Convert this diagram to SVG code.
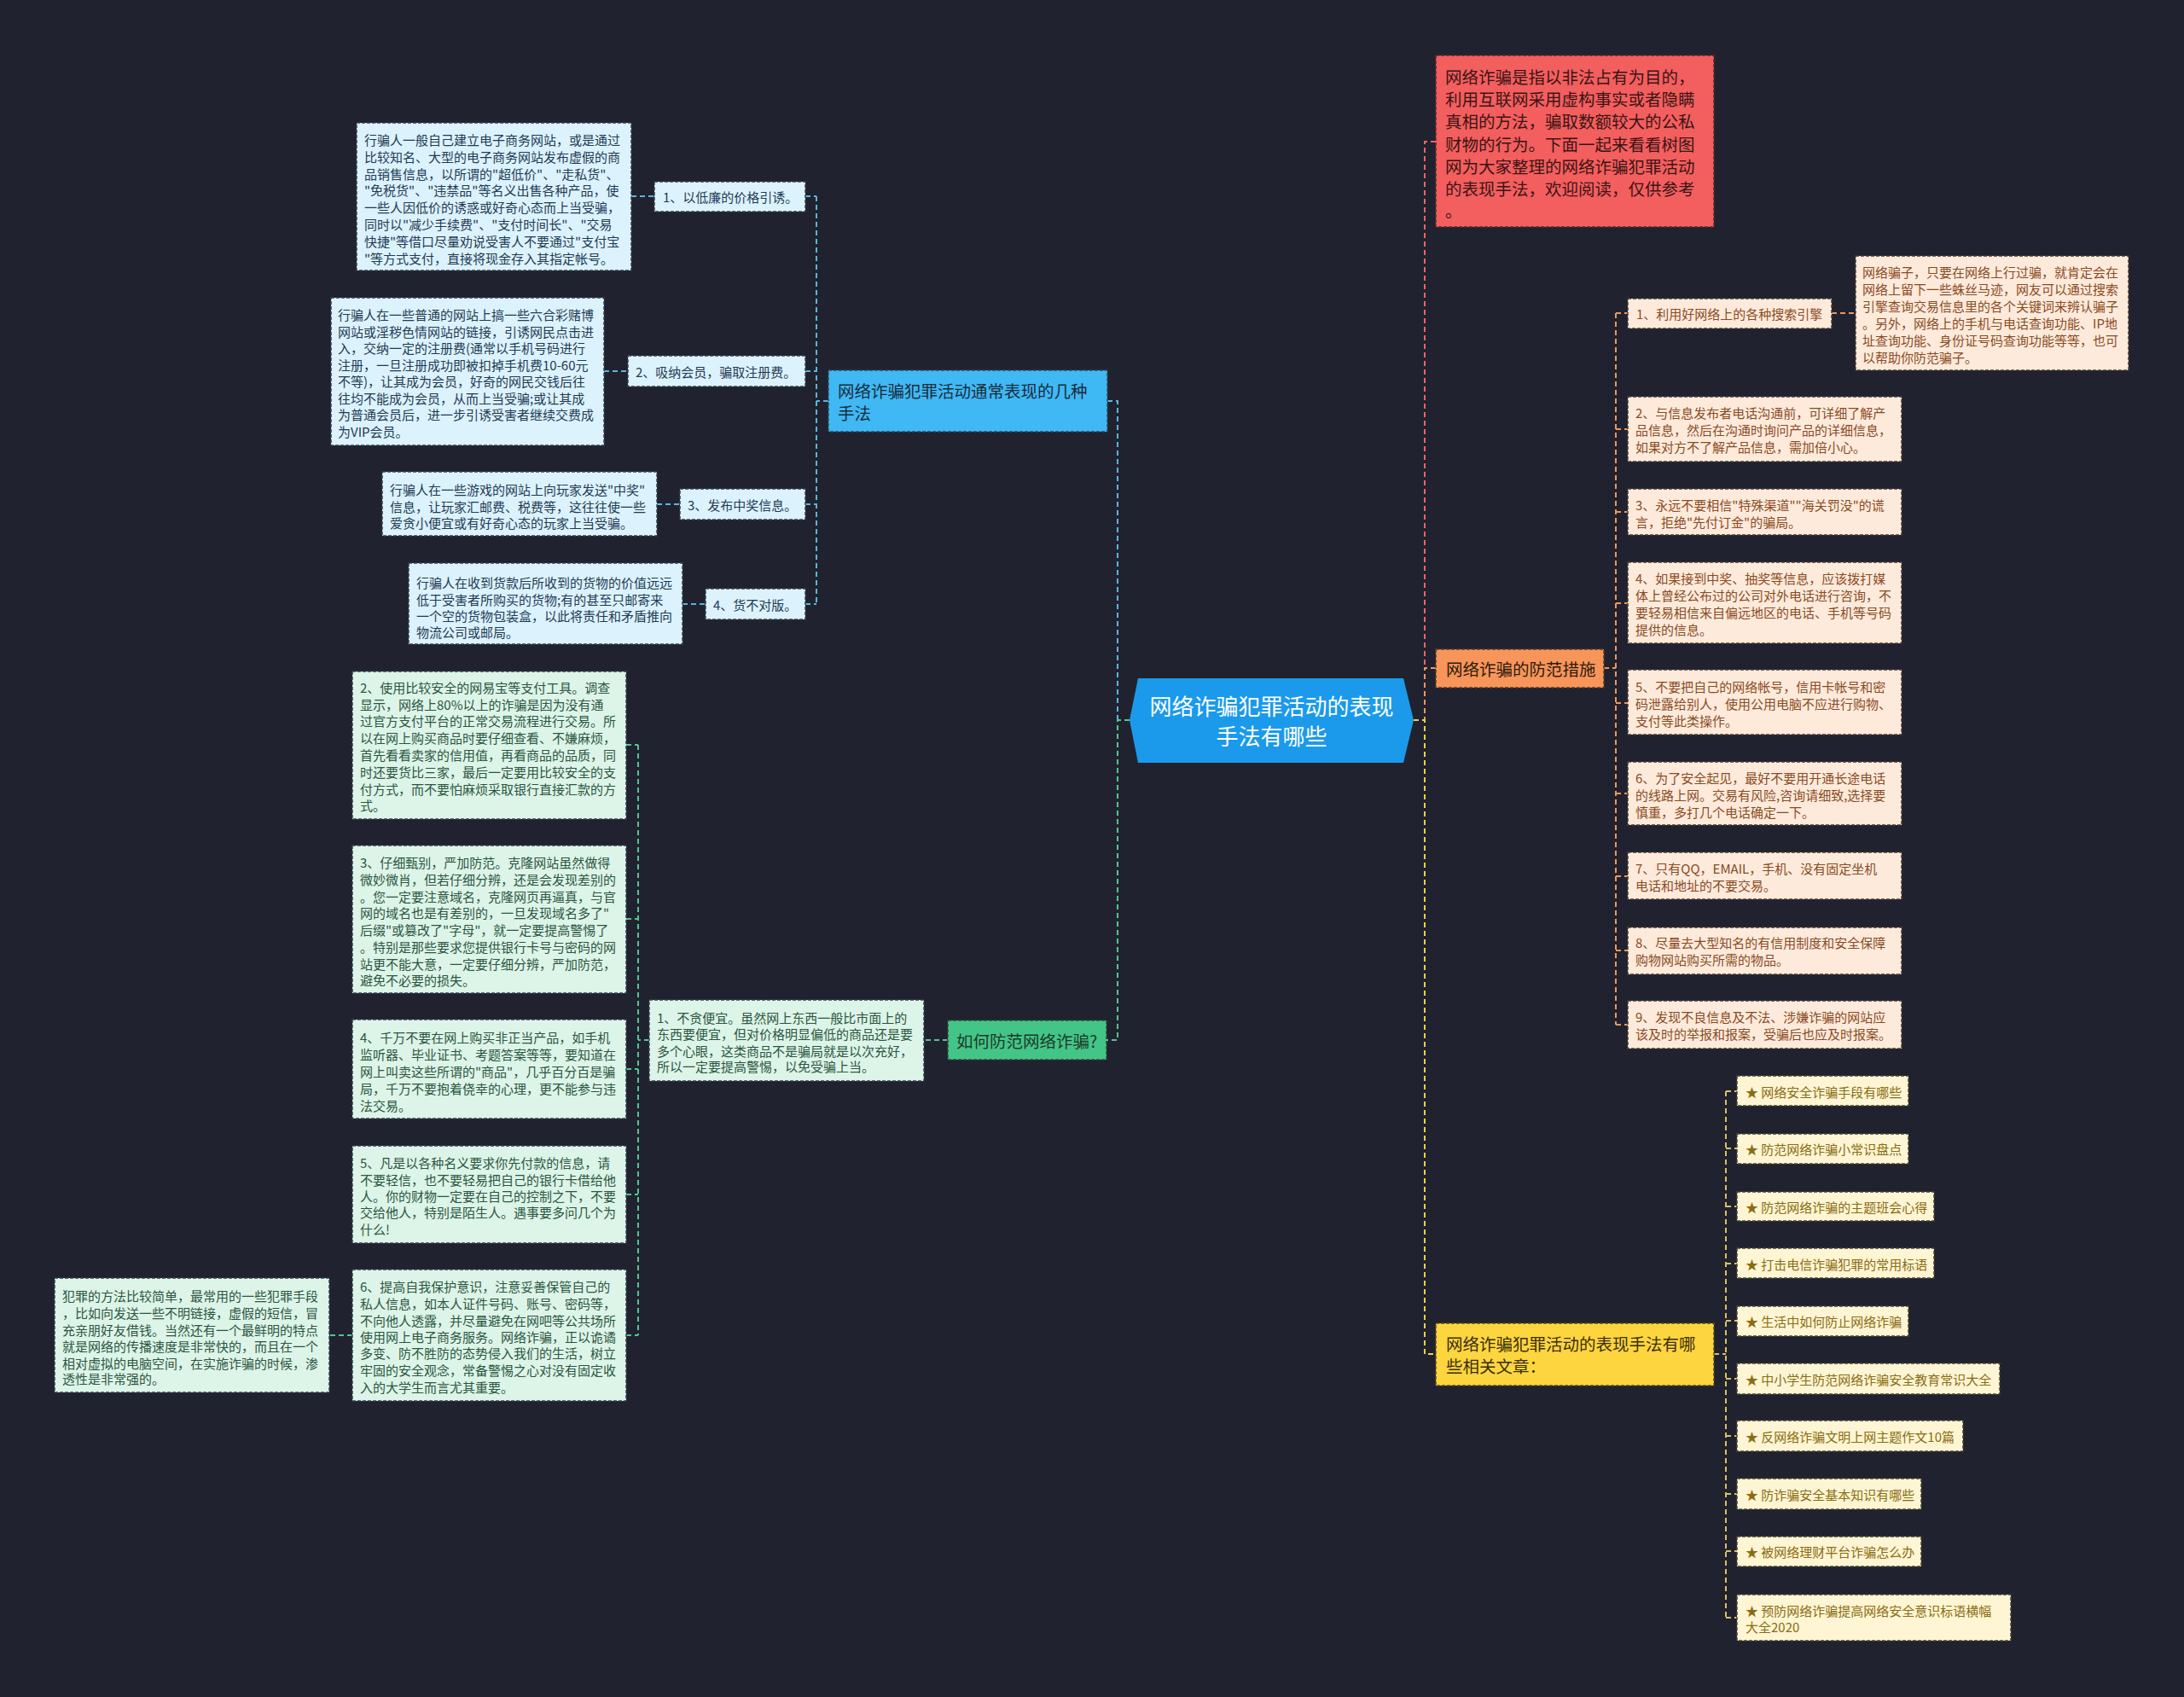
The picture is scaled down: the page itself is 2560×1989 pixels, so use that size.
<svg xmlns="http://www.w3.org/2000/svg" width="2560" height="1989" viewBox="0 0 2560 1989">
<style>
text{font-family:"Noto Sans CJK SC","Noto Sans",sans-serif;dominant-baseline:central}
.t15{font-size:15px}
.t19{font-size:19.5px}
.bl{fill:#dcf2fc;stroke:#33414f;stroke-width:1.5;stroke-dasharray:4 2}
.blt{fill:#1d3b55}
.gr{fill:#ddf4e8;stroke:#33414f;stroke-width:1.5;stroke-dasharray:4 2}
.grt{fill:#2a5640}
.or{fill:#fdeadb;stroke:#4a3a30;stroke-width:1.5;stroke-dasharray:4 2}
.ort{fill:#8a4a1f}
.ye{fill:#fdf5d3;stroke:#4a4430;stroke-width:1.5;stroke-dasharray:4 2}
.yet{fill:#8a6c12}
.c{fill:none;stroke-width:2;stroke-dasharray:6 4}
.cb{stroke:#5ab4e2}
.cg{stroke:#55c48e}
.cr{stroke:#f06464}
.co{stroke:#f0965a}
.cy{stroke:#f3cf45}
.cyy{stroke:#d9c062}
</style>
<rect x="0" y="0" width="2560" height="1989" fill="#20232f"/>

<g id="connectors">
  <!-- left trunk -->
  <path class="c cb" d="M1298 470 H1310 V844"/>
  <path class="c cg" d="M1324 844 H1310 V1219 H1297"/>
  <!-- blue branch -->
  <path class="c cb" d="M971 470 H957"/>
  <path class="c cb" d="M957 230 V708"/>
  <path class="c cb" d="M944 230 H957 M944 435 H957 M944 591 H957 M944 708 H957"/>
  <path class="c cb" d="M740 230 H767 M708 435 H736 M770 591 H797 M800 708 H827"/>
  <!-- green branch -->
  <path class="c cg" d="M1111 1219 H1083"/>
  <path class="c cg" d="M761 1219 H748"/>
  <path class="c cg" d="M748 873 V1565"/>
  <path class="c cg" d="M734 873 H748 M734 1077 H748 M734 1253 H748 M734 1400 H748 M734 1565 H748"/>
  <path class="c cg" d="M413 1565 H386"/>
  <!-- right trunk -->
  <path class="c cr" d="M1683 166 H1670 V783"/>
  <path class="c co" d="M1683 783 H1670 V844"/>
  <path class="c cy" d="M1657 844 H1670 V1587 H1683"/>
  <!-- orange branch -->
  <path class="c co" d="M1880 783 H1894"/>
  <path class="c co" d="M1894 367 V1201"/>
  <path class="c co" d="M1894 367 H1908 M1894 503 H1908 M1894 600 H1908 M1894 707 H1908 M1894 824 H1908 M1894 930 H1908 M1894 1027 H1908 M1894 1114 H1908 M1894 1201 H1908"/>
  <path class="c co" d="M2147 367 H2175"/>
  <!-- related -->
  <path class="c cyy" d="M2009 1587 H2023"/>
  <path class="c cyy" d="M2023 1279 V1896"/>
  <path class="c cyy" d="M2023 1279 H2036 M2023 1346 H2036 M2023 1414 H2036 M2023 1481 H2036 M2023 1548 H2036 M2023 1616 H2036 M2023 1683 H2036 M2023 1751 H2036 M2023 1818 H2036 M2023 1896 H2036"/>
</g>

<g id="central">
  <polygon points="1324,844 1334,795 1645,795 1657,844 1645,894 1334,894" fill="#1b9aec"/>
  <text x="1490.5" y="826" font-size="26" fill="#ffffff" text-anchor="middle">网络诈骗犯罪活动的表现</text>
  <text x="1490.5" y="861" font-size="26" fill="#ffffff" text-anchor="middle">手法有哪些</text>
</g>

<!-- Blue branch -->
<g id="branch-methods">
  <rect x="971" y="434" width="327" height="72" fill="#3fb8f4" stroke="#2a4a60" stroke-width="1.5" stroke-dasharray="4 2"/>
  <text class="t19" x="982" y="457" fill="#1b2c3c">网络诈骗犯罪活动通常表现的几种</text>
  <text class="t19" x="982" y="483" fill="#1b2c3c">手法</text>
</g>
<g id="m1">
  <rect class="bl" x="767" y="213" width="177" height="35"/>
  <text class="t15 blt" x="777" y="230">1、以低廉的价格引诱。</text>
</g>
<g id="m1d">
  <rect class="bl" x="418" y="144" width="322" height="173"/>
  <text class="t15 blt" x="427" y="163">行骗人一般自己建立电子商务网站，或是通过</text>
  <text class="t15 blt" x="427" y="183">比较知名、大型的电子商务网站发布虚假的商</text>
  <text class="t15 blt" x="427" y="203">品销售信息，以所谓的"超低价"、"走私货"、</text>
  <text class="t15 blt" x="427" y="222">"免税货"、"违禁品"等名义出售各种产品，使</text>
  <text class="t15 blt" x="427" y="242">一些人因低价的诱惑或好奇心态而上当受骗，</text>
  <text class="t15 blt" x="427" y="262">同时以"减少手续费"、"支付时间长"、"交易</text>
  <text class="t15 blt" x="427" y="282">快捷"等借口尽量劝说受害人不要通过"支付宝</text>
  <text class="t15 blt" x="427" y="302">"等方式支付，直接将现金存入其指定帐号。</text>
</g>
<g id="m2">
  <rect class="bl" x="736" y="417" width="208" height="36"/>
  <text class="t15 blt" x="745" y="435">2、吸纳会员，骗取注册费。</text>
</g>
<g id="m2d">
  <rect class="bl" x="388" y="349" width="320" height="173"/>
  <text class="t15 blt" x="396" y="368">行骗人在一些普通的网站上搞一些六合彩赌博</text>
  <text class="t15 blt" x="396" y="388">网站或淫秽色情网站的链接，引诱网民点击进</text>
  <text class="t15 blt" x="396" y="407">入，交纳一定的注册费(通常以手机号码进行</text>
  <text class="t15 blt" x="396" y="427">注册，一旦注册成功即被扣掉手机费10-60元</text>
  <text class="t15 blt" x="396" y="446">不等)，让其成为会员，好奇的网民交钱后往</text>
  <text class="t15 blt" x="396" y="466">往均不能成为会员，从而上当受骗;或让其成</text>
  <text class="t15 blt" x="396" y="485">为普通会员后，进一步引诱受害者继续交费成</text>
  <text class="t15 blt" x="396" y="505">为VIP会员。</text>
</g>
<g id="m3">
  <rect class="bl" x="797" y="573" width="147" height="36"/>
  <text class="t15 blt" x="806" y="591">3、发布中奖信息。</text>
</g>
<g id="m3d">
  <rect class="bl" x="448" y="553" width="322" height="75"/>
  <text class="t15 blt" x="457" y="573">行骗人在一些游戏的网站上向玩家发送"中奖"</text>
  <text class="t15 blt" x="457" y="593">信息，让玩家汇邮费、税费等，这往往使一些</text>
  <text class="t15 blt" x="457" y="612">爱贪小便宜或有好奇心态的玩家上当受骗。</text>
</g>
<g id="m4">
  <rect class="bl" x="827" y="690" width="117" height="36"/>
  <text class="t15 blt" x="836" y="708">4、货不对版。</text>
</g>
<g id="m4d">
  <rect class="bl" x="479" y="660" width="321" height="95"/>
  <text class="t15 blt" x="488" y="682">行骗人在收到货款后所收到的货物的价值远远</text>
  <text class="t15 blt" x="488" y="702">低于受害者所购买的货物;有的甚至只邮寄来</text>
  <text class="t15 blt" x="488" y="721">一个空的货物包装盒，以此将责任和矛盾推向</text>
  <text class="t15 blt" x="488" y="740">物流公司或邮局。</text>
</g>

<!-- Green branch -->
<g id="branch-prevent-how">
  <rect x="1111" y="1196" width="186" height="46" fill="#44c588" stroke="#2a4a3a" stroke-width="1.5" stroke-dasharray="4 2"/>
  <text class="t19" x="1121" y="1219" fill="#1c3a2a">如何防范网络诈骗?</text>
</g>
<g id="p1">
  <rect class="gr" x="761" y="1172" width="322" height="95"/>
  <text class="t15 grt" x="770" y="1192">1、不贪便宜。虽然网上东西一般比市面上的</text>
  <text class="t15 grt" x="770" y="1211">东西要便宜，但对价格明显偏低的商品还是要</text>
  <text class="t15 grt" x="770" y="1231">多个心眼，这类商品不是骗局就是以次充好，</text>
  <text class="t15 grt" x="770" y="1249">所以一定要提高警惕，以免受骗上当。</text>
</g>
<g id="p2">
  <rect class="gr" x="413" y="787" width="321" height="173"/>
  <text class="t15 grt" x="422" y="805">2、使用比较安全的网易宝等支付工具。调查</text>
  <text class="t15 grt" x="422" y="825">显示，网络上80%以上的诈骗是因为没有通</text>
  <text class="t15 grt" x="422" y="844">过官方支付平台的正常交易流程进行交易。所</text>
  <text class="t15 grt" x="422" y="864">以在网上购买商品时要仔细查看、不嫌麻烦，</text>
  <text class="t15 grt" x="422" y="884">首先看看卖家的信用值，再看商品的品质，同</text>
  <text class="t15 grt" x="422" y="904">时还要货比三家，最后一定要用比较安全的支</text>
  <text class="t15 grt" x="422" y="924">付方式，而不要怕麻烦采取银行直接汇款的方</text>
  <text class="t15 grt" x="422" y="943">式。</text>
</g>
<g id="p3">
  <rect class="gr" x="413" y="991" width="321" height="173"/>
  <text class="t15 grt" x="422" y="1010">3、仔细甄别，严加防范。克隆网站虽然做得</text>
  <text class="t15 grt" x="422" y="1030">微妙微肖，但若仔细分辨，还是会发现差别的</text>
  <text class="t15 grt" x="422" y="1050">。您一定要注意域名，克隆网页再逼真，与官</text>
  <text class="t15 grt" x="422" y="1069">网的域名也是有差别的，一旦发现域名多了"</text>
  <text class="t15 grt" x="422" y="1089">后缀"或篡改了"字母"，就一定要提高警惕了</text>
  <text class="t15 grt" x="422" y="1109">。特别是那些要求您提供银行卡号与密码的网</text>
  <text class="t15 grt" x="422" y="1129">站更不能大意，一定要仔细分辨，严加防范，</text>
  <text class="t15 grt" x="422" y="1148">避免不必要的损失。</text>
</g>
<g id="p4">
  <rect class="gr" x="413" y="1195" width="321" height="116"/>
  <text class="t15 grt" x="422" y="1215">4、千万不要在网上购买非正当产品，如手机</text>
  <text class="t15 grt" x="422" y="1235">监听器、毕业证书、考题答案等等，要知道在</text>
  <text class="t15 grt" x="422" y="1255">网上叫卖这些所谓的"商品"，几乎百分百是骗</text>
  <text class="t15 grt" x="422" y="1275">局，千万不要抱着侥幸的心理，更不能参与违</text>
  <text class="t15 grt" x="422" y="1295">法交易。</text>
</g>
<g id="p5">
  <rect class="gr" x="413" y="1343" width="321" height="114"/>
  <text class="t15 grt" x="422" y="1362">5、凡是以各种名义要求你先付款的信息，请</text>
  <text class="t15 grt" x="422" y="1382">不要轻信，也不要轻易把自己的银行卡借给他</text>
  <text class="t15 grt" x="422" y="1401">人。你的财物一定要在自己的控制之下，不要</text>
  <text class="t15 grt" x="422" y="1420">交给他人，特别是陌生人。遇事要多问几个为</text>
  <text class="t15 grt" x="422" y="1440">什么!</text>
</g>
<g id="p6">
  <rect class="gr" x="413" y="1488" width="321" height="154"/>
  <text class="t15 grt" x="422" y="1507">6、提高自我保护意识，注意妥善保管自己的</text>
  <text class="t15 grt" x="422" y="1527">私人信息，如本人证件号码、账号、密码等，</text>
  <text class="t15 grt" x="422" y="1547">不向他人透露，并尽量避免在网吧等公共场所</text>
  <text class="t15 grt" x="422" y="1566">使用网上电子商务服务。网络诈骗，正以诡谲</text>
  <text class="t15 grt" x="422" y="1585">多变、防不胜防的态势侵入我们的生活，树立</text>
  <text class="t15 grt" x="422" y="1605">牢固的安全观念，常备警惕之心对没有固定收</text>
  <text class="t15 grt" x="422" y="1625">入的大学生而言尤其重要。</text>
</g>
<g id="p6d">
  <rect class="gr" x="64" y="1498" width="322" height="134"/>
  <text class="t15 grt" x="73" y="1518">犯罪的方法比较简单，最常用的一些犯罪手段</text>
  <text class="t15 grt" x="73" y="1538">，比如向发送一些不明链接，虚假的短信，冒</text>
  <text class="t15 grt" x="73" y="1558">充亲朋好友借钱。当然还有一个最鲜明的特点</text>
  <text class="t15 grt" x="73" y="1577">就是网络的传播速度是非常快的，而且在一个</text>
  <text class="t15 grt" x="73" y="1597">相对虚拟的电脑空间，在实施诈骗的时候，渗</text>
  <text class="t15 grt" x="73" y="1615">透性是非常强的。</text>
</g>

<!-- Red intro -->
<g id="intro">
  <rect x="1683" y="65" width="326" height="201" fill="#f35e5e" stroke="#5a2a2a" stroke-width="1.5" stroke-dasharray="4 2"/>
  <text class="t19" x="1694" y="89" fill="#3a1414">网络诈骗是指以非法占有为目的，</text>
  <text class="t19" x="1694" y="115" fill="#3a1414">利用互联网采用虚构事实或者隐瞒</text>
  <text class="t19" x="1694" y="141" fill="#3a1414">真相的方法，骗取数额较大的公私</text>
  <text class="t19" x="1694" y="168" fill="#3a1414">财物的行为。下面一起来看看树图</text>
  <text class="t19" x="1694" y="194" fill="#3a1414">网为大家整理的网络诈骗犯罪活动</text>
  <text class="t19" x="1694" y="220" fill="#3a1414">的表现手法，欢迎阅读，仅供参考</text>
  <text class="t19" x="1694" y="246" fill="#3a1414">。</text>
</g>

<!-- Orange branch -->
<g id="branch-measures">
  <rect x="1683" y="761" width="197" height="45" fill="#f7955a" stroke="#5a3a20" stroke-width="1.5" stroke-dasharray="4 2"/>
  <text class="t19" x="1695" y="783" fill="#2e1a0c">网络诈骗的防范措施</text>
</g>
<g id="r1">
  <rect class="or" x="1908" y="350" width="239" height="35"/>
  <text class="t15 ort" x="1918" y="367">1、利用好网络上的各种搜索引擎</text>
</g>
<g id="r1d">
  <rect class="or" x="2175" y="300" width="320" height="134"/>
  <text class="t15 ort" x="2183" y="318">网络骗子，只要在网络上行过骗，就肯定会在</text>
  <text class="t15 ort" x="2183" y="338">网络上留下一些蛛丝马迹，网友可以通过搜索</text>
  <text class="t15 ort" x="2183" y="358">引擎查询交易信息里的各个关键词来辨认骗子</text>
  <text class="t15 ort" x="2183" y="378">。另外，网络上的手机与电话查询功能、IP地</text>
  <text class="t15 ort" x="2183" y="398">址查询功能、身份证号码查询功能等等，也可</text>
  <text class="t15 ort" x="2183" y="418">以帮助你防范骗子。</text>
</g>
<g id="r2">
  <rect class="or" x="1908" y="465" width="321" height="76"/>
  <text class="t15 ort" x="1917" y="483">2、与信息发布者电话沟通前，可详细了解产</text>
  <text class="t15 ort" x="1917" y="503">品信息，然后在沟通时询问产品的详细信息，</text>
  <text class="t15 ort" x="1917" y="523">如果对方不了解产品信息，需加倍小心。</text>
</g>
<g id="r3">
  <rect class="or" x="1908" y="573" width="321" height="54"/>
  <text class="t15 ort" x="1917" y="591">3、永远不要相信"特殊渠道""海关罚没"的谎</text>
  <text class="t15 ort" x="1917" y="611">言，拒绝"先付订金"的骗局。</text>
</g>
<g id="r4">
  <rect class="or" x="1908" y="659" width="321" height="95"/>
  <text class="t15 ort" x="1917" y="677">4、如果接到中奖、抽奖等信息，应该拨打媒</text>
  <text class="t15 ort" x="1917" y="697">体上曾经公布过的公司对外电话进行咨询，不</text>
  <text class="t15 ort" x="1917" y="717">要轻易相信来自偏远地区的电话、手机等号码</text>
  <text class="t15 ort" x="1917" y="737">提供的信息。</text>
</g>
<g id="r5">
  <rect class="or" x="1908" y="785" width="321" height="76"/>
  <text class="t15 ort" x="1917" y="804">5、不要把自己的网络帐号，信用卡帐号和密</text>
  <text class="t15 ort" x="1917" y="824">码泄露给别人，使用公用电脑不应进行购物、</text>
  <text class="t15 ort" x="1917" y="844">支付等此类操作。</text>
</g>
<g id="r6">
  <rect class="or" x="1908" y="893" width="321" height="74"/>
  <text class="t15 ort" x="1917" y="911">6、为了安全起见，最好不要用开通长途电话</text>
  <text class="t15 ort" x="1917" y="931">的线路上网。交易有风险,咨询请细致,选择要</text>
  <text class="t15 ort" x="1917" y="951">慎重，多打几个电话确定一下。</text>
</g>
<g id="r7">
  <rect class="or" x="1908" y="999" width="321" height="55"/>
  <text class="t15 ort" x="1917" y="1017">7、只有QQ，EMAIL，手机、没有固定坐机</text>
  <text class="t15 ort" x="1917" y="1037">电话和地址的不要交易。</text>
</g>
<g id="r8">
  <rect class="or" x="1908" y="1087" width="321" height="55"/>
  <text class="t15 ort" x="1917" y="1104">8、尽量去大型知名的有信用制度和安全保障</text>
  <text class="t15 ort" x="1917" y="1124">购物网站购买所需的物品。</text>
</g>
<g id="r9">
  <rect class="or" x="1908" y="1173" width="321" height="56"/>
  <text class="t15 ort" x="1917" y="1191">9、发现不良信息及不法、涉嫌诈骗的网站应</text>
  <text class="t15 ort" x="1917" y="1211">该及时的举报和报案，受骗后也应及时报案。</text>
</g>

<!-- Yellow related -->
<g id="branch-related">
  <rect x="1683" y="1551" width="326" height="73" fill="#fdd53f" stroke="#5a4a1a" stroke-width="1.5" stroke-dasharray="4 2"/>
  <text class="t19" x="1695" y="1574" fill="#3a2e0c">网络诈骗犯罪活动的表现手法有哪</text>
  <text class="t19" x="1695" y="1600" fill="#3a2e0c">些相关文章：</text>
</g>
<g id="a1"><rect class="ye" x="2036" y="1261" width="201" height="35"/><text class="t15 yet" x="2046" y="1279">★ 网络安全诈骗手段有哪些</text></g>
<g id="a2"><rect class="ye" x="2036" y="1329" width="201" height="35"/><text class="t15 yet" x="2046" y="1346">★ 防范网络诈骗小常识盘点</text></g>
<g id="a3"><rect class="ye" x="2036" y="1397" width="231" height="34"/><text class="t15 yet" x="2046" y="1414">★ 防范网络诈骗的主题班会心得</text></g>
<g id="a4"><rect class="ye" x="2036" y="1463" width="231" height="35"/><text class="t15 yet" x="2046" y="1481">★ 打击电信诈骗犯罪的常用标语</text></g>
<g id="a5"><rect class="ye" x="2036" y="1531" width="201" height="35"/><text class="t15 yet" x="2046" y="1548">★ 生活中如何防止网络诈骗</text></g>
<g id="a6"><rect class="ye" x="2036" y="1598" width="308" height="36"/><text class="t15 yet" x="2046" y="1616">★ 中小学生防范网络诈骗安全教育常识大全</text></g>
<g id="a7"><rect class="ye" x="2036" y="1665" width="265" height="36"/><text class="t15 yet" x="2046" y="1683">★ 反网络诈骗文明上网主题作文10篇</text></g>
<g id="a8"><rect class="ye" x="2036" y="1733" width="216" height="36"/><text class="t15 yet" x="2046" y="1751">★ 防诈骗安全基本知识有哪些</text></g>
<g id="a9"><rect class="ye" x="2036" y="1801" width="216" height="35"/><text class="t15 yet" x="2046" y="1818">★ 被网络理财平台诈骗怎么办</text></g>
<g id="a10"><rect class="ye" x="2036" y="1869" width="321" height="54"/><text class="t15 yet" x="2046" y="1887">★ 预防网络诈骗提高网络安全意识标语横幅</text><text class="t15 yet" x="2046" y="1906">大全2020</text></g>
</svg>
